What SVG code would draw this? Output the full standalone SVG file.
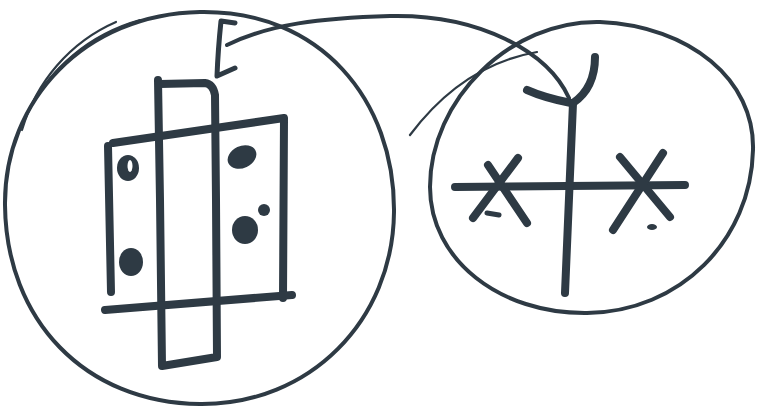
<svg xmlns="http://www.w3.org/2000/svg" width="761" height="409" viewBox="0 0 761 409">
<style>
.ink{fill:none;stroke:#2e3a44;stroke-linecap:round;stroke-linejoin:round}
.thin{stroke-width:4}
.fine{stroke-width:2.2}
.thick{stroke-width:8}
.blob{fill:#2e3a44;stroke:none}
</style>
<rect width="761" height="409" fill="#ffffff"/>
<g id="node-left">
<path class="ink thin" d="M200,12 C320,10 395,100 394,212 C393,320 310,405 200,404 C85,403 6,320 5,205 C4,100 85,14 200,12 Z"/>
<path class="ink fine" d="M116,22 C70,42 36,82 22,130"/>
<path class="ink fine" d="M140,20 C90,34 50,68 28,112"/>
<path class="ink thick" d="M158,80 L160,200 L162,366 L217,357 L216,200 L215,95 Q213,84 205,83 L160,84"/>
<path class="ink thick" d="M113,143 L284,118 L283,298"/>
<path class="ink thick" d="M108,146 L111,292"/>
<path class="ink thick" d="M105,310 L292,295"/>
<ellipse class="blob" cx="128" cy="168" rx="11" ry="13"/>
<ellipse cx="130" cy="166" rx="2.5" ry="6" fill="#ffffff"/>
<ellipse class="blob" cx="131" cy="262" rx="12" ry="14"/>
<ellipse class="blob" cx="242" cy="157" rx="15" ry="11" transform="rotate(-25 242 157)"/>
<ellipse class="blob" cx="245" cy="230" rx="13" ry="14"/>
<circle class="blob" cx="264" cy="210" r="6"/>
</g>
<g id="node-right">
<path class="ink thin" d="M600,22 C690,26 755,80 753,150 C751,240 680,312 587,313 C500,314 430,260 430,187 C430,100 510,20 600,22 Z"/>
<path class="ink fine" d="M410,135 C440,95 480,62 537,52"/>
<path class="ink thick" d="M455,187 L685,185"/>
<path class="ink thick" d="M573,103 L565,293"/>
<path class="ink thick" d="M527,90 Q545,98 571,103"/>
<path class="ink thick" d="M595,57 Q595,88 573,103"/>
<path class="ink thick" d="M488,165 L527,223"/>
<path class="ink thick" d="M518,158 L473,218"/>
<path class="ink" stroke-width="5" d="M487,213 L499,215"/>
<path class="ink thick" d="M663,153 L613,230"/>
<path class="ink thick" d="M620,157 L670,217"/>
<ellipse class="blob" cx="652" cy="227" rx="5" ry="3"/>
</g>
<g id="connectors">
<path class="ink thin" d="M569,98 C548,52 480,14 390,16 C320,18 270,24 227,45"/>
<path class="ink" stroke-width="5" d="M235,23 L221,21 Q218,50 217,76 L235,68"/>
</g>
</svg>
